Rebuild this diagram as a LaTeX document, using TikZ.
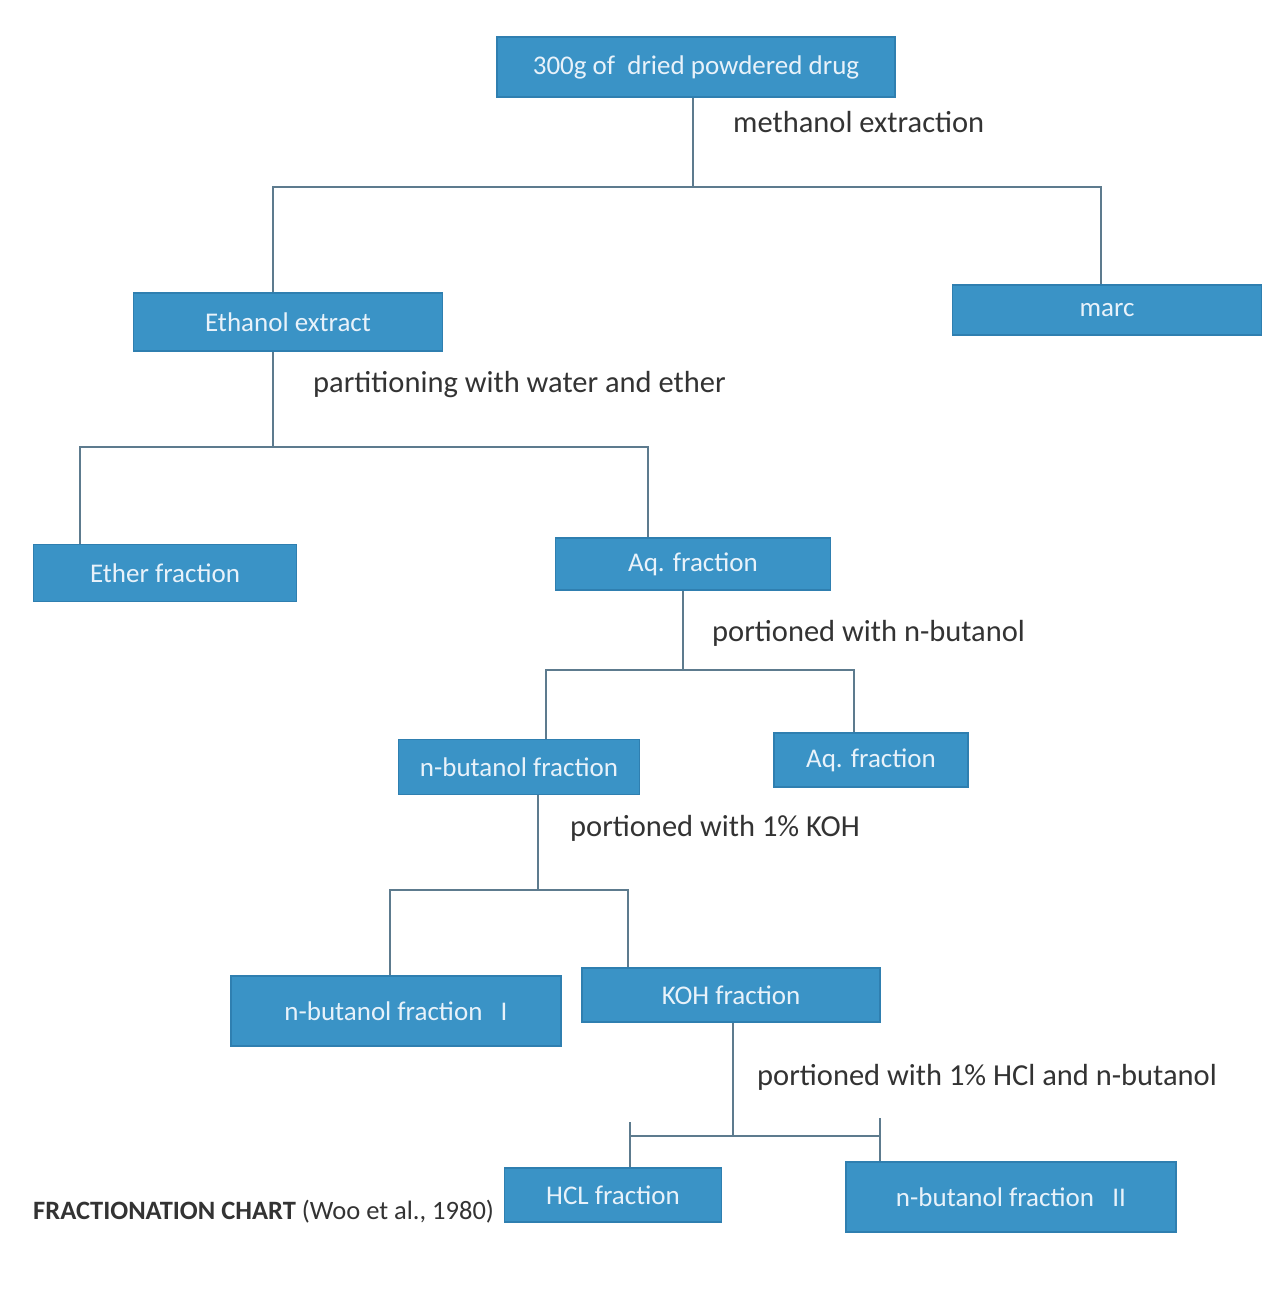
\documentclass[tikz,border=0pt]{standalone}
\usepackage{fontspec}
\setmainfont{Carlito}
\definecolor{boxblue}{HTML}{3A93C6}
\definecolor{boxedge}{HTML}{2F7FB0}
\definecolor{boxtext}{HTML}{E8F2FA}
\definecolor{linec}{HTML}{5D7B8E}
\definecolor{labc}{HTML}{333333}
\begin{document}
\begin{tikzpicture}[x=1pt,y=-1pt,
 fbox/.style={draw=boxedge, fill=boxblue, line width=1.5pt, text=boxtext,
   font=\fontsize{27}{29}\selectfont, inner sep=0pt, anchor=center},
 steplabel/.style={text=labc, font=\fontsize{30.5}{33}\selectfont, anchor=west, inner sep=0pt},
 conn/.style={draw=linec, line width=1.8pt}]
\fill[white] (0,0) rectangle (1269,1304);
\useasboundingbox (0,0) rectangle (1269,1304);

% boxes
\node[fbox, minimum width=398pt, minimum height=60pt] (n1) at (696,67) {300g of\ \ dried powdered drug};
\node[fbox, minimum width=309pt, minimum height=58pt] (eth) at (288,322) {Ethanol extract};
\node[fbox, minimum width=309pt, minimum height=50pt] (marc) at (1107,310) {marc};
\node[fbox, minimum width=263pt, minimum height=57pt] (ether) at (165,573) {Ether fraction};
\node[fbox, minimum width=275pt, minimum height=52pt] (aq1) at (693,564) {Aq. fraction};
\node[fbox, minimum width=241pt, minimum height=55pt] (nbu) at (519,767) {n-butanol fraction};
\node[fbox, minimum width=194pt, minimum height=54pt] (aq2) at (871,760) {Aq. fraction};
\node[fbox, minimum width=330pt, minimum height=70pt] (nbu1) at (396,1011) {n-butanol fraction\ \ \ I};
\node[fbox, minimum width=298pt, minimum height=54pt] (koh) at (731,995) {KOH fraction};
\node[fbox, minimum width=217pt, minimum height=54pt] (hcl) at (613,1195) {HCL fraction};
\node[fbox, minimum width=330pt, minimum height=70pt] (nbu2) at (1011,1197) {n-butanol fraction\ \ \ II};

% labels
\node[steplabel] (l1) at (733,122) {methanol extraction};
\node[steplabel] (l2) at (313,385) {partitioning with water and ether};
\node[steplabel] (l3) at (712,633) {portioned with n-butanol};
\node[steplabel] (l4) at (570,828) {portioned with 1\% KOH};
\node[steplabel] (l5) at (757,1077) {portioned with 1\% HCl and n-butanol};
\node[anchor=west, text=labc, inner sep=0pt, font=\fontsize{26.5}{28}\selectfont] (title) at (33,1212)
  {\textbf{FRACTIONATION CHART} (Woo et al., 1980)};

% connectors
\coordinate (j1) at (693,187);
\coordinate (j1L) at (273,187);
\coordinate (j1R) at (1101,187);
\draw[conn] (n1.south -| j1) -- (j1);
\draw[conn] (eth.north -| j1L) -- (j1L) -- (j1R) -- (marc.north -| j1R);

\coordinate (j2) at (273,447);
\coordinate (j2L) at (80,447);
\coordinate (j2R) at (648,447);
\draw[conn] (eth.south -| j2) -- (j2);
\draw[conn] (ether.north -| j2L) -- (j2L) -- (j2R) -- (aq1.north -| j2R);

\coordinate (j3) at (683,670);
\coordinate (j3L) at (546,670);
\coordinate (j3R) at (854,670);
\draw[conn] (aq1.south -| j3) -- (j3);
\draw[conn] (nbu.north -| j3L) -- (j3L) -- (j3R) -- (aq2.north -| j3R);

\coordinate (j4) at (538,890);
\coordinate (j4L) at (390,890);
\coordinate (j4R) at (628,890);
\draw[conn] (nbu.south -| j4) -- (j4);
\draw[conn] (nbu1.north -| j4L) -- (j4L) -- (j4R) -- (koh.north -| j4R);

\coordinate (j5) at (733,1136);
\coordinate (j5L) at (630,1136);
\coordinate (j5R) at (880,1136);
\coordinate (t5L) at (630,1122);
\coordinate (t5R) at (880,1118);
\draw[conn] (koh.south -| j5) -- (j5);
\draw[conn] (j5L) -- (j5R);
\draw[conn] (t5L) -- (hcl.north -| t5L);
\draw[conn] (t5R) -- (nbu2.north -| t5R);
\end{tikzpicture}
\end{document}
